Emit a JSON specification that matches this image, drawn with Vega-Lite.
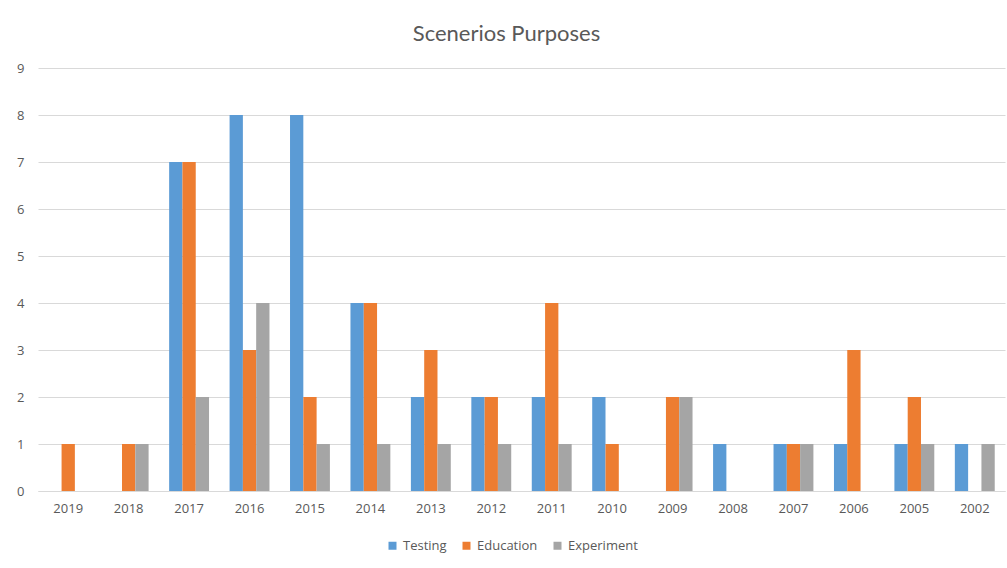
{
  "$schema": "https://vega.github.io/schema/vega-lite/v6.json",
  "width": 967,
  "height": 423,
  "autosize": {"type": "none"},
  "padding": {"left": 38, "top": 68, "right": 2, "bottom": 77},
  "background": "white",
  "title": {
    "text": "Scenerios Purposes",
    "font": "Lato",
    "fontSize": 22,
    "fontWeight": "normal",
    "color": "#595959",
    "anchor": "middle",
    "offset": 16,
    "dx": -15
  },
  "data": {
    "values": [
      {"year": "2019", "purpose": "Testing", "count": 0},
      {"year": "2019", "purpose": "Education", "count": 1},
      {"year": "2019", "purpose": "Experiment", "count": 0},
      {"year": "2018", "purpose": "Testing", "count": 0},
      {"year": "2018", "purpose": "Education", "count": 1},
      {"year": "2018", "purpose": "Experiment", "count": 1},
      {"year": "2017", "purpose": "Testing", "count": 7},
      {"year": "2017", "purpose": "Education", "count": 7},
      {"year": "2017", "purpose": "Experiment", "count": 2},
      {"year": "2016", "purpose": "Testing", "count": 8},
      {"year": "2016", "purpose": "Education", "count": 3},
      {"year": "2016", "purpose": "Experiment", "count": 4},
      {"year": "2015", "purpose": "Testing", "count": 8},
      {"year": "2015", "purpose": "Education", "count": 2},
      {"year": "2015", "purpose": "Experiment", "count": 1},
      {"year": "2014", "purpose": "Testing", "count": 4},
      {"year": "2014", "purpose": "Education", "count": 4},
      {"year": "2014", "purpose": "Experiment", "count": 1},
      {"year": "2013", "purpose": "Testing", "count": 2},
      {"year": "2013", "purpose": "Education", "count": 3},
      {"year": "2013", "purpose": "Experiment", "count": 1},
      {"year": "2012", "purpose": "Testing", "count": 2},
      {"year": "2012", "purpose": "Education", "count": 2},
      {"year": "2012", "purpose": "Experiment", "count": 1},
      {"year": "2011", "purpose": "Testing", "count": 2},
      {"year": "2011", "purpose": "Education", "count": 4},
      {"year": "2011", "purpose": "Experiment", "count": 1},
      {"year": "2010", "purpose": "Testing", "count": 2},
      {"year": "2010", "purpose": "Education", "count": 1},
      {"year": "2010", "purpose": "Experiment", "count": 0},
      {"year": "2009", "purpose": "Testing", "count": 0},
      {"year": "2009", "purpose": "Education", "count": 2},
      {"year": "2009", "purpose": "Experiment", "count": 2},
      {"year": "2008", "purpose": "Testing", "count": 1},
      {"year": "2008", "purpose": "Education", "count": 0},
      {"year": "2008", "purpose": "Experiment", "count": 0},
      {"year": "2007", "purpose": "Testing", "count": 1},
      {"year": "2007", "purpose": "Education", "count": 1},
      {"year": "2007", "purpose": "Experiment", "count": 1},
      {"year": "2006", "purpose": "Testing", "count": 1},
      {"year": "2006", "purpose": "Education", "count": 3},
      {"year": "2006", "purpose": "Experiment", "count": 0},
      {"year": "2005", "purpose": "Testing", "count": 1},
      {"year": "2005", "purpose": "Education", "count": 2},
      {"year": "2005", "purpose": "Experiment", "count": 1},
      {"year": "2002", "purpose": "Testing", "count": 1},
      {"year": "2002", "purpose": "Education", "count": 0},
      {"year": "2002", "purpose": "Experiment", "count": 1}
    ]
  },
  "mark": {"type": "bar"},
  "encoding": {
    "x": {
      "field": "year",
      "type": "nominal",
      "sort": null,
      "scale": {"paddingInner": 0.34, "paddingOuter": 0.17},
      "axis": {
        "title": null,
        "labelAngle": 0,
        "ticks": false,
        "domainColor": "#d9d9d9",
        "domainWidth": 1,
        "labelFont": "Open Sans",
        "labelFontSize": 13,
        "labelColor": "#595959",
        "labelPadding": 11
      }
    },
    "xOffset": {
      "field": "purpose",
      "type": "nominal",
      "sort": ["Testing", "Education", "Experiment"],
      "scale": {"paddingInner": 0, "paddingOuter": 0}
    },
    "y": {
      "field": "count",
      "type": "quantitative",
      "scale": {"domain": [0, 9], "nice": false},
      "axis": {
        "title": null,
        "values": [0, 1, 2, 3, 4, 5, 6, 7, 8, 9],
        "ticks": false,
        "domain": false,
        "gridColor": "#d9d9d9",
        "gridWidth": 1,
        "labelFont": "Open Sans",
        "labelFontSize": 13,
        "labelColor": "#595959",
        "labelPadding": 14
      }
    },
    "color": {
      "field": "purpose",
      "type": "nominal",
      "sort": ["Testing", "Education", "Experiment"],
      "scale": {
        "domain": ["Testing", "Education", "Experiment"],
        "range": ["#5B9BD5", "#ED7D31", "#A5A5A5"]
      },
      "legend": {
        "title": null,
        "orient": "none",
        "legendX": 348,
        "legendY": 471,
        "direction": "horizontal",
        "symbolType": "square",
        "symbolSize": 64,
        "symbolStrokeWidth": 0,
        "labelFont": "Open Sans",
        "labelFontSize": 13,
        "labelColor": "#595959",
        "columnPadding": 13,
        "labelOffset": 4
      }
    }
  },
  "config": {
    "view": {"stroke": null}
  }
}
